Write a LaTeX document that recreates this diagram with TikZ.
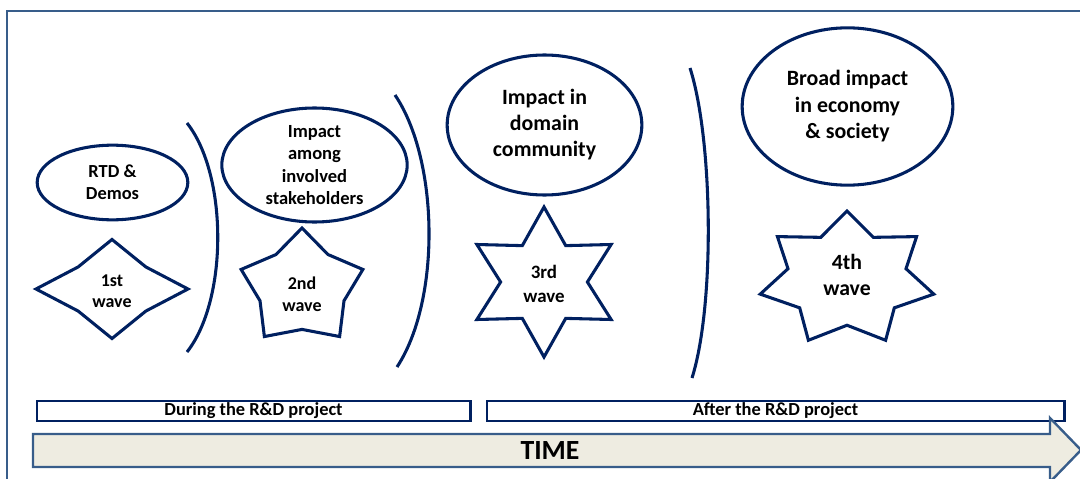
\documentclass[tikz,border=0pt]{standalone}
\usepackage{fontspec}
\setmainfont{Carlito}
\usepackage{tikz}
\usetikzlibrary{shapes.geometric}
\definecolor{wavenavy}{RGB}{0,32,96}
\definecolor{timeline}{RGB}{56,93,138}
\definecolor{timefill}{RGB}{238,236,225}
\newcommand{\wavestar}[6]{%
  \pgfmathtruncatemacro{\lastpt}{2*#5-1}
  \draw[starline] plot[samples at={0,...,\lastpt}]
    ({#1+#3*(mod(\x,2)==0?1:#6)*cos(90+\x*180/#5)},{#2-#4*(mod(\x,2)==0?1:#6)*sin(90+\x*180/#5)}) -- cycle;
}

\begin{document}
\begin{tikzpicture}[x=0.75pt, y=-0.75pt, font=\bfseries,
    bubble/.style={ellipse, draw=wavenavy, line width=2.3pt, inner sep=0pt, align=center},
    starline/.style={draw=wavenavy, line width=2.3pt},
    bracket/.style={draw=wavenavy, line width=2.3pt},
    periodbox/.style={draw=wavenavy, line width=2pt, inner sep=0pt, minimum height=15pt,
      font=\bfseries\fontsize{13.8}{15}\selectfont}]
            \useasboundingbox (0,0) rectangle (1080,478);
            \draw[timeline, line width=1.5pt] (7,480) -- (7,11) -- (1082,11);
            % impacts
            \node[bubble, minimum width=113pt, minimum height=56pt, font=\bfseries\fontsize{13.8}{16.5}\selectfont] (rtd) at (112.5,182.5) {RTD \&\\Demos};
            \node[bubble, minimum width=139pt, minimum height=85.5pt, font=\bfseries\fontsize{13.9}{16.9}\selectfont] (stake) at (314.5,165) {Impact\\among\\involved\\stakeholders};
            \node[bubble, minimum width=146pt, minimum height=105pt, font=\bfseries\fontsize{16.4}{19.5}\selectfont] (domain) at (544.5,125) {Impact in\\domain\\community};
            \node[bubble, minimum width=158pt, minimum height=118pt, font=\bfseries\fontsize{16.4}{19.9}\selectfont] (broad) at (847.5,106.5) {Broad impact\\in economy\\\& society};
            % waves
            \wavestar{112}{289}{76}{49.5}{4}{0.63}
            \wavestar{302}{288}{64}{60}{5}{0.69}
            \wavestar{544}{282}{77.5}{75}{6}{0.56}
            \wavestar{847}{279}{89}{68}{7}{0.68}
            \node[align=center, font=\bfseries\fontsize{13.5}{15.8}\selectfont] (wave1) at (112,291) {1st\\wave};
            \node[align=center, font=\bfseries\fontsize{13.5}{16.5}\selectfont] (wave2) at (302,294) {2nd\\wave};
            \node[align=center, font=\bfseries\fontsize{14.2}{18}\selectfont] (wave3) at (544,284) {3rd\\wave};
            \node[align=center, font=\bfseries\fontsize{16.3}{19.5}\selectfont] (wave4) at (847,275) {4th\\wave};
            % separators
            \draw[bracket] (187,123) .. controls (228,175) and (228,300) .. (187,352);
            \draw[bracket] (395,95) .. controls (439,160) and (441,300) .. (397,367);
            \draw[bracket] (690,68) .. controls (713,140) and (715,305) .. (692,378);
            % time line
            \node[periodbox, minimum width=325pt] (during) at (253.5,411) {During the R\&D project};
            \node[periodbox, minimum width=433pt] (after) at (775.5,411) {After the R\&D project};
            \draw[timeline, fill=timefill, line width=1.8pt] (33,434) -- (1050,434) -- (1050,418) -- (1081,450)
              -- (1050,482) -- (1050,467) -- (33,467) -- cycle;
            \node[font=\bfseries\fontsize{20.8}{24}\selectfont] (time) at (550,451) {TIME};
        \end{tikzpicture}
\end{document}
